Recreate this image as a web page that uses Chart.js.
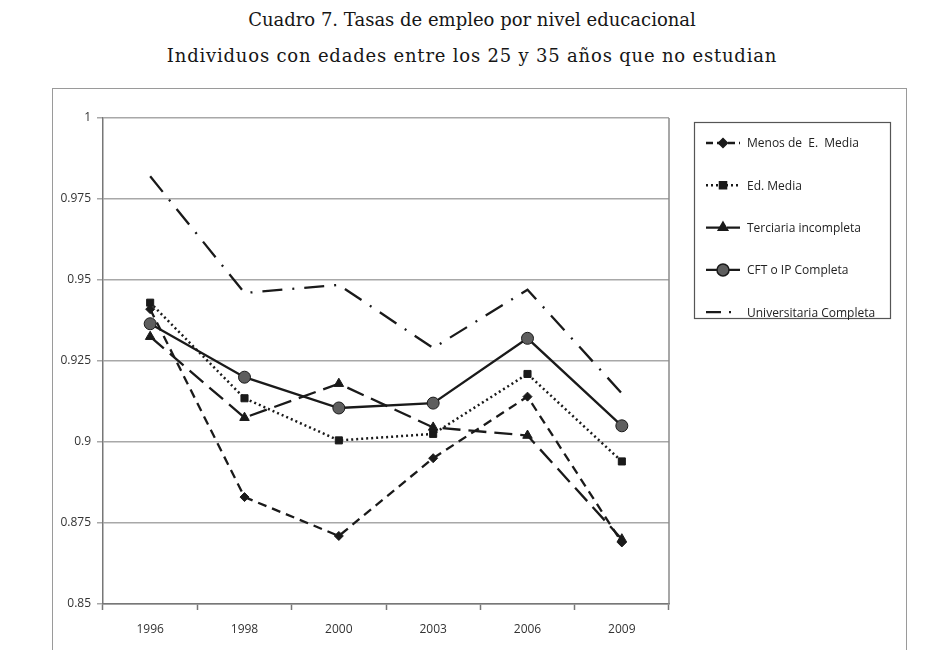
<!DOCTYPE html>
<html>
<head>
<meta charset="utf-8">
<script src="https://cdn.jsdelivr.net/npm/chart.js@4"></script>
<style>
    body { margin: 0; background: #fff; }
    #wrap { position: relative; width: 927px; height: 650px; overflow: hidden; }
    .title { position: absolute; left: 0; width: 944px; text-align: center; font-family: 'DejaVu Serif', serif; font-size: 18px; color: #161616; }
    #frame { position: absolute; left: 52px; top: 88px; width: 855px; height: 600px; border: 1.5px solid #9a9a9a; box-sizing: border-box; }
    canvas { position: absolute; left: 0; top: 0; }
</style>
</head>
<body>
<div id="wrap">
    <div class="title" style="top: 9px;">Cuadro 7. Tasas de empleo por nivel educacional</div>
    <div class="title" style="top: 45px; letter-spacing: 0.8px;">Individuos con edades entre los 25 y 35 años que no estudian</div>
    <div id="frame"></div>
    <canvas id="chart" width="927" height="650"></canvas>
</div>
<script>
// Data
const years = ['1996', '1998', '2000', '2003', '2006', '2009'];
const menosMedia = [0.941, 0.883, 0.871, 0.895, 0.914, 0.869];
const edMedia = [0.943, 0.9135, 0.9005, 0.9025, 0.921, 0.894];
const terciariaInc = [0.9325, 0.9075, 0.918, 0.9045, 0.902, 0.870];
const cftIp = [0.9365, 0.920, 0.9105, 0.912, 0.932, 0.905];
const universitaria = [0.982, 0.946, 0.9485, 0.929, 0.947, 0.915];
const yTicks = [0.85, 0.875, 0.9, 0.925, 0.95, 0.975, 1];

const ink = '#1a1a1a';
const font = "'Open Sans', sans-serif";

// Boxed legend + right border of the plot area
const boxLegend = {
    id: 'boxLegend',
    afterDraw(chart) {
        const ctx = chart.ctx;
        ctx.save();
        ctx.strokeStyle = '#555';
        ctx.lineWidth = 1.2;
        ctx.strokeRect(694.5, 122.5, 196, 196);
        chart.data.datasets.forEach((ds, i) => {
            const y = 143 + i * 42.3;
            ctx.strokeStyle = ink;
            ctx.lineWidth = ds.borderWidth;
            ctx.setLineDash(ds.legendDash || []);
            ctx.beginPath();
            ctx.moveTo(706, y);
            ctx.lineTo(740, y);
            ctx.stroke();
            ctx.setLineDash([]);
            if (ds.pointRadius > 0) {
                ctx.fillStyle = ds.pointBackgroundColor;
                ctx.strokeStyle = ds.pointBorderColor;
                ctx.lineWidth = 1.5;
                Chart.helpers.drawPoint(ctx, { pointStyle: ds.pointStyle, radius: ds.pointRadius, borderWidth: 1.5, rotation: 0 }, 723, y);
            }
            ctx.fillStyle = '#222';
            ctx.font = '12px ' + font;
            ctx.textBaseline = 'middle';
            ctx.fillText(ds.label, 747, y + 1);
        });
        const a = chart.chartArea;
        ctx.strokeStyle = '#8a8a8a';
        ctx.lineWidth = 1.5;
        ctx.beginPath();
        ctx.moveTo(a.right, a.top);
        ctx.lineTo(a.right, a.bottom);
        ctx.stroke();
        ctx.restore();
    }
};

function series(label, data, dash, style, radius, fill, width, legendDash) {
    return {
        label, data,
        borderColor: ink,
        borderWidth: width,
        borderDash: dash,
        legendDash,
        pointStyle: style,
        pointRadius: radius,
        pointBackgroundColor: fill,
        pointBorderColor: ink,
        pointBorderWidth: 1,
        tension: 0,
        fill: false
    };
}

new Chart(document.getElementById('chart'), {
    type: 'line',
    data: {
        labels: years,
        datasets: [
            series('Menos de  E.  Media', menosMedia, [9, 6], 'rectRot', 4.5, ink, 2.3, [7, 4]),
            series('Ed. Media', edMedia, [2, 3], 'rect', 5, ink, 2.5, [2, 3]),
            series('Terciaria incompleta', terciariaInc, [18, 8], 'triangle', 5.5, ink, 2.3, [14, 7]),
            series('CFT o IP Completa', cftIp, [], 'circle', 6, '#5e5e5e', 2.3, []),
            series('Universitaria Completa', universitaria, [20, 10, 2, 10], 'circle', 0, ink, 2.3, [15, 8, 2, 20])
        ]
    },
    options: {
        responsive: false,
        animation: false,
        layout: { padding: { left: 52, top: 118, right: 258, bottom: 16 } },
        plugins: { legend: { display: false }, tooltip: { enabled: false } },
        scales: {
            x: {
                offset: true,
                grid: { drawOnChartArea: false, offset: true, tickLength: 6, color: '#777', tickWidth: 1.5 },
                border: { color: '#777', width: 1.5 },
                ticks: { color: '#333', font: { family: font, size: 12 }, padding: 12 },
                afterFit: s => { s.height = 30; }
            },
            y: {
                min: 0.85,
                max: 1,
                afterBuildTicks: s => { s.ticks = yTicks.map(v => ({ value: v })); },
                grid: { color: '#a8a8a8', lineWidth: 1.5, tickLength: 6 },
                border: { color: '#777', width: 1.5 },
                ticks: {
                    color: '#333',
                    font: { family: font, size: 12 },
                    padding: 6,
                    callback: v => String(+v.toFixed(3))
                },
                afterFit: s => { s.width = 51; }
            }
        }
    },
    plugins: [boxLegend]
});
</script>
</body>
</html>
